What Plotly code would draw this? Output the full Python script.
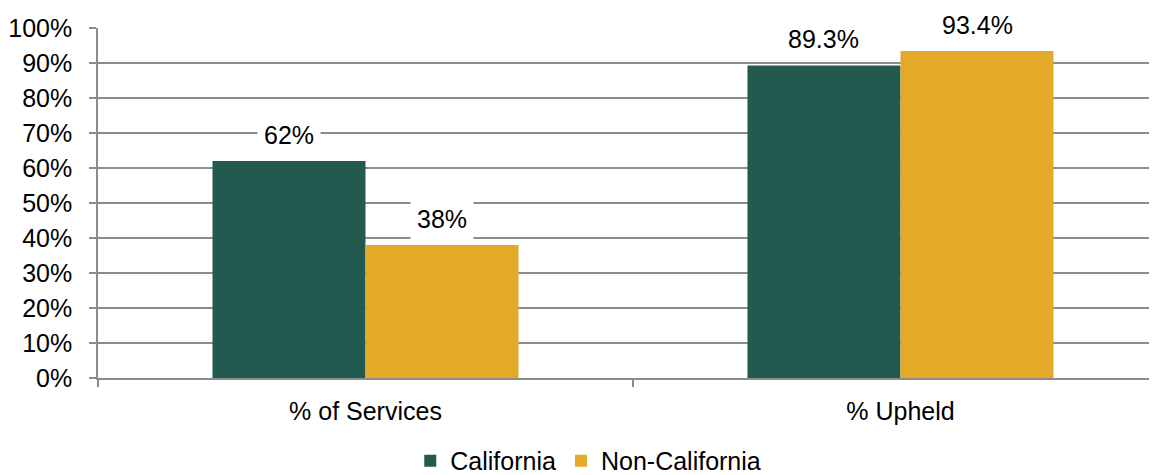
import plotly.graph_objects as go

categories = ["% of Services", "% Upheld"]
california = [62.0, 89.3]
non_california = [38.0, 93.4]
labels_ca = ["62%", "89.3%"]
labels_nca = ["38%", "93.4%"]
y_ticks = [0, 10, 20, 30, 40, 50, 60, 70, 80, 90, 100]
y_ticktext = [f"{v}%" for v in y_ticks]

GREEN = "#225A50"
GOLD = "#E2AA28"
GRID = "#8C8C8C"
FONT = "Liberation Sans, Arial, Helvetica, sans-serif"
FS = 25

fig = go.Figure()
fig.add_trace(go.Bar(x=categories, y=california, name="California",
                     marker=dict(color=GREEN, line=dict(width=0))))
fig.add_trace(go.Bar(x=categories, y=non_california, name="Non-California",
                     marker=dict(color=GOLD, line=dict(width=0))))

half_bar_px = 76.7
for cat, v, t in zip(categories, california, labels_ca):
    fig.add_annotation(x=cat, y=v, text=t, showarrow=False, xshift=-half_bar_px,
                       yshift=26.5, yanchor="middle", bgcolor="white", borderpad=6,
                       font=dict(size=FS, color="black", family=FONT))
for cat, v, t in zip(categories, non_california, labels_nca):
    fig.add_annotation(x=cat, y=v, text=t, showarrow=False, xshift=half_bar_px,
                       yshift=26.5, yanchor="middle", bgcolor="white", borderpad=6,
                       font=dict(size=FS, color="black", family=FONT))

# page body has an 8px margin: figure is offset by 8px in the window
fig.update_layout(
    width=1149, height=467,
    margin=dict(l=87, r=0, t=20, b=97),
    paper_bgcolor="white", plot_bgcolor="white",
    barmode="group", bargap=0.428, bargroupgap=0,
    font=dict(family=FONT, size=FS, color="black"),
    showlegend=True,
    legend=dict(orientation="h", xref="container", yref="container",
                x=0.505, xanchor="center", y=0.03, yanchor="middle",
                font=dict(size=FS), itemclick=False, tracegroupgap=0),
)
fig.update_xaxes(
    type="category", range=[-0.5, 1.4795], showgrid=False,
    showline=True, linecolor=GRID, linewidth=1.5,
    ticks="outside", tickson="boundaries", ticklen=7, tickcolor=GRID, tickwidth=1.5,
    ticklabelstandoff=10, tickfont=dict(size=FS),
)
fig.update_yaxes(
    range=[0, 100], tickvals=y_ticks, ticktext=y_ticktext,
    showgrid=True, gridcolor=GRID, gridwidth=1.5,
    showline=True, linecolor=GRID, linewidth=1.5,
    ticks="outside", ticklen=7, tickcolor=GRID, tickwidth=1.5,
    ticklabelstandoff=12, tickfont=dict(size=FS), zeroline=False,
)

fig.write_html("out.html")
